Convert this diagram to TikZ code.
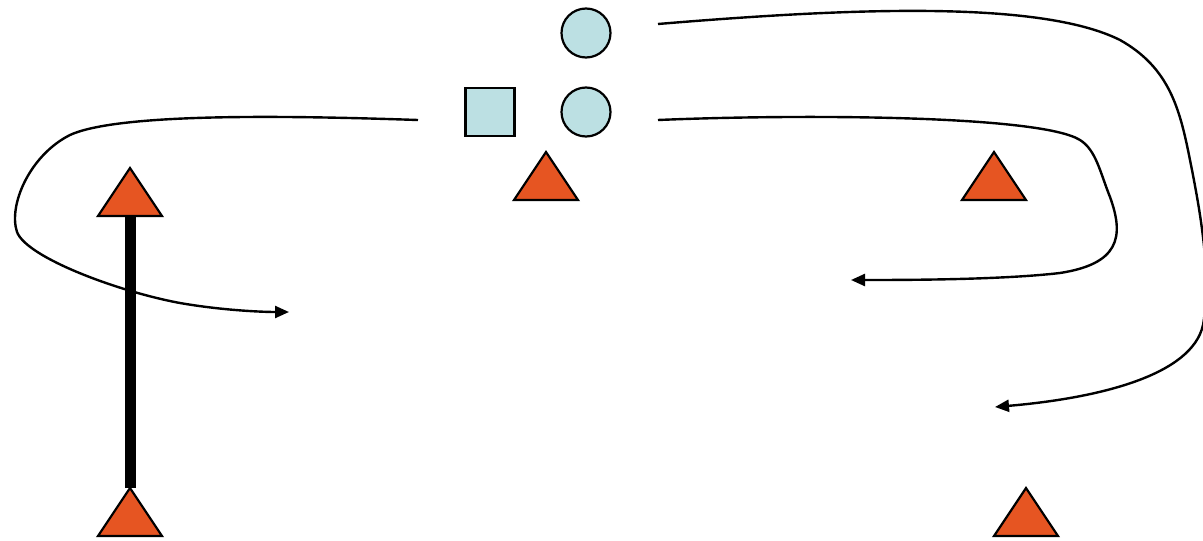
\documentclass[tikz,border=0pt]{standalone}
\usetikzlibrary{arrows.meta}
\definecolor{lblue}{HTML}{BCE0E3}
\definecolor{orng}{HTML}{E65522}
\tikzset{
  shp/.style={draw=black,line width=2.2pt,fill=lblue,inner sep=0pt},
  circ/.style={shp,circle,minimum size=49pt},
  sqr/.style={shp,rectangle,minimum width=49pt,minimum height=48pt},
  trishape/.style={draw=black,line width=2.2pt,fill=orng,line join=miter},
  curve/.style={line width=2.4pt,-{Triangle[length=14pt,width=12pt]}},
  pole/.style={line width=11pt}
}
\newcommand\tri[3]{\coordinate (#1) at (#2,#3);
  \draw[trishape] (#1) ++(0,-24) -- ++(32,48) -- ++(-64,0) -- cycle;}
\begin{document}
\begin{tikzpicture}[x=1pt,y=-1pt]
\useasboundingbox (0,0) rectangle (1203,541);
\clip (0,0) rectangle (1203,541);
\node[circ] (c1) at (586,33) {};
\node[circ] (c2) at (586,112) {};
\node[sqr] (s1) at (490,112) {};
\tri{t1}{130}{192}
\tri{t2}{546}{176}
\tri{t3}{994}{176}
\tri{t4}{130}{512}
\tri{t5}{1026}{512}
\draw[pole] ([yshift=24pt]t4) -- ([yshift=-24pt]t1);
% free ends
\coordinate (a0) at (418,120);
\coordinate (a1) at (289,312);
\coordinate (b0) at (658,120);
\coordinate (b1) at (851,280);
\coordinate (d0) at (658,24);
\coordinate (d1) at (995,407);
\draw[curve] (a0) .. controls (300,116) and (120,112) .. (70,135)
  .. controls (30,155) and (8,205) .. (17,232)
  .. controls (27,258) and (120,292) .. (180,303)
  .. controls (220,310) and (260,312) .. (a1);
\draw[curve] (b0) .. controls (800,114) and (1040,115) .. (1080,140)
  .. controls (1096,150) and (1100,172) .. (1110,197)
  .. controls (1125,238) and (1118,264) .. (1060,273)
  .. controls (1000,280) and (900,280) .. (b1);
\draw[curve] (d0) .. controls (850,8) and (1040,0) .. (1120,40)
  .. controls (1170,68) and (1180,110) .. (1190,160)
  .. controls (1200,210) and (1212,275) .. (1203,325)
  .. controls (1192,375) and (1100,398) .. (d1);
\end{tikzpicture}
\end{document}
